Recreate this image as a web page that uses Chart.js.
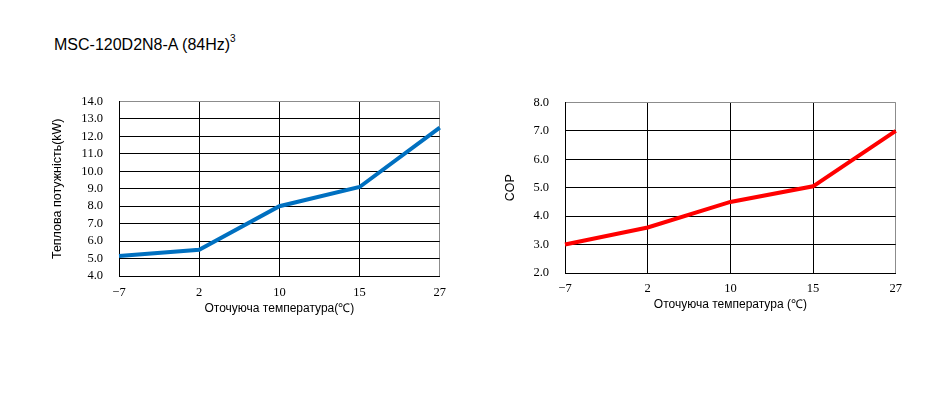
<!DOCTYPE html>
<html><head><meta charset="utf-8">
<script src="https://cdn.jsdelivr.net/npm/chart.js@4/dist/chart.umd.min.js"></script>
<style>
html,body{margin:0;padding:0;background:#fff;}
body{width:946px;height:396px;position:relative;overflow:hidden;}
#title{position:absolute;left:54px;top:35px;font-family:"Liberation Sans",sans-serif;font-size:16px;color:#000;white-space:nowrap;}
#title sup{font-size:10px;position:relative;top:-2px;}
.box{position:absolute;}
</style></head>
<body>
<div id="title">MSC-120D2N8-A (84Hz)<sup>3</sup></div>
<div class="box" style="left:40px;top:78px;width:415px;height:238px;"><canvas id="c1" width="415" height="238"></canvas></div>
<div class="box" style="left:490px;top:79px;width:420px;height:233px;"><canvas id="c2" width="420" height="233"></canvas></div>
<script>
const temperatures = ['−7', '2', '10', '15', '27'];
const heatingCapacity = [5.15, 5.5, 8.0, 9.1, 12.5];
const copValues = [3.0, 3.6, 4.5, 5.05, 7.0];

function makeChart(id, data, color, yMin, yMax, yTitle, xTitle, yWidth, xHeight, padTop, padRight, yTitlePad, xTickPad) {
  const n = temperatures.length;
  return new Chart(document.getElementById(id), {
    type: 'line',
    data: { labels: temperatures, datasets: [{ data: data, borderColor: color, borderWidth: 4, pointRadius: 0, tension: 0, fill: false }] },
    options: {
      responsive: false, animation: false,
      layout: { padding: { top: padTop, right: padRight, left: 0, bottom: 0 } },
      plugins: { legend: { display: false }, tooltip: { enabled: false } },
      scales: {
        x: {
          offset: false,
          grid: { color: ctx => ctx.index === n - 1 ? '#8c8c8c' : '#000', lineWidth: 1, drawTicks: false },
          border: { color: '#000', width: 1 },
          ticks: { color: '#000', font: { family: 'Liberation Serif', size: 12.5 }, padding: xTickPad, maxRotation: 0, autoSkip: false },
          title: { display: true, text: xTitle, color: '#000', font: { family: 'Liberation Sans', size: 12 }, padding: { top: 3, bottom: 0 } },
          afterFit: s => { s.height = xHeight; }
        },
        y: {
          min: yMin, max: yMax,
          grid: { color: ctx => ctx.tick && ctx.tick.value === yMax ? '#8c8c8c' : '#000', lineWidth: 1, drawTicks: false },
          border: { color: '#000', width: 1 },
          ticks: { stepSize: 1, autoSkip: false, color: '#000', font: { family: 'Liberation Serif', size: 12.5 }, padding: 16, callback: v => Number(v).toFixed(1) },
          title: { display: true, text: yTitle, color: '#000', font: { family: 'Liberation Sans', size: 12.5 }, padding: { top: yTitlePad, bottom: 4 } },
          afterFit: s => { s.width = yWidth; }
        }
      }
    }
  });
}
makeChart('c1', heatingCapacity, '#0070C0', 4, 14, 'Теплова потужність(kW)', 'Оточуюча температура(℃)', 79, 40, 8, 7, 10, 9);
makeChart('c2', copValues, '#FF0000', 2, 8, 'COP', 'Оточуюча температура (℃)', 75, 39, 10, 13, 13, 8);
</script>
</body></html>
